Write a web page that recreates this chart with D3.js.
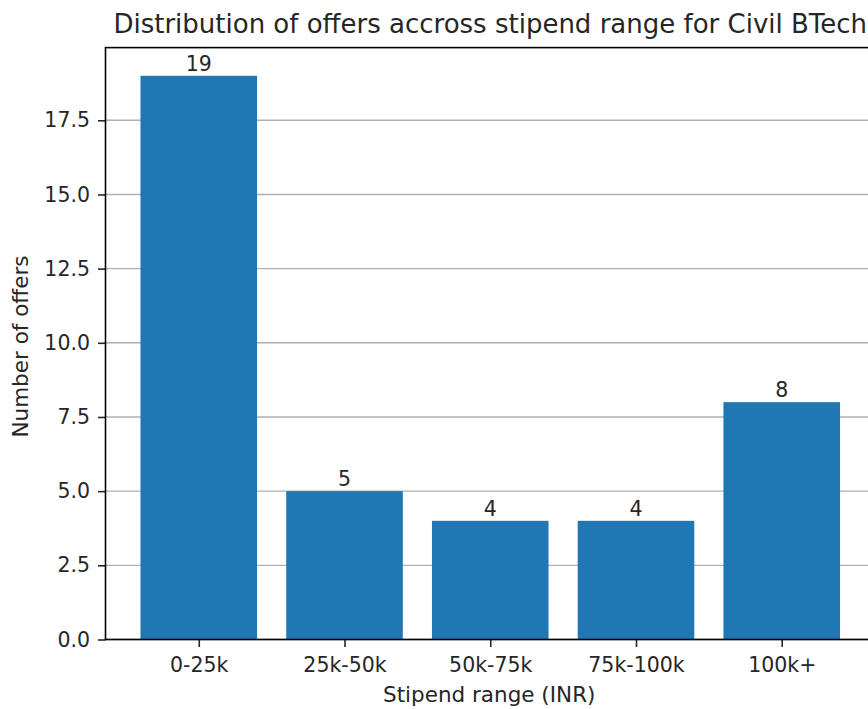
<!DOCTYPE html>
<html><head><meta charset="utf-8">
<script src="https://cdn.jsdelivr.net/npm/d3@7"></script>
<style>body{margin:0;background:#fff;overflow:hidden}text{font-family:"DejaVu Sans",sans-serif;fill:#262626}</style>
</head><body>
<svg id="c" width="868" height="709"></svg>
<script>
const categories = ["0-25k","25k-50k","50k-75k","75k-100k","100k+"];
const offers = [19,5,4,4,8];
const yTicks = [0,2.5,5,7.5,10,12.5,15,17.5];
const title = "Distribution of offers accross stipend range for Civil BTech";
const xLabel = "Stipend range (INR)";
const yLabel = "Number of offers";

const svg = d3.select("#c");
const L=105.5, R=875, T=47.6, B=639.5;
const xIdx = d3.scaleLinear().domain([-0.64,4.64]).range([L,R]);
const y = d3.scaleLinear().domain([0,19.95]).range([B,T]);
const fs = 20.5;

// grid
svg.append("g").selectAll("line").data(yTicks).join("line")
 .attr("x1",L).attr("x2",R).attr("y1",d=>y(d)).attr("y2",d=>y(d))
 .attr("stroke","#b0b0b0").attr("stroke-width",1.4);

// bars
svg.append("g").selectAll("rect").data(offers).join("rect")
 .attr("x",(d,i)=>xIdx(i-0.4)).attr("width",(d,i)=>xIdx(i+0.4)-xIdx(i-0.4))
 .attr("y",d=>y(d)).attr("height",d=>B-y(d)).attr("fill","#1f77b4");

// labels
svg.append("g").selectAll("text").data(offers).join("text")
 .attr("x",(d,i)=>xIdx(i)).attr("y",d=>y(d)-5).attr("text-anchor","middle")
 .attr("font-size",fs).text(d=>d);

// axes
const yAxis = d3.axisLeft(y).tickValues(yTicks).tickFormat(d3.format(".1f")).tickSize(7.5).tickPadding(8);
const gy = svg.append("g").attr("transform",`translate(${L},0)`).call(yAxis);
const xAxis = d3.axisBottom(xIdx).tickValues(d3.range(categories.length)).tickFormat(i=>categories[i]).tickSize(7.5).tickPadding(10);
const gx = svg.append("g").attr("transform",`translate(0,${B})`).call(xAxis);
[gx,gy].forEach(g=>{g.select(".domain").remove();g.selectAll("line").attr("stroke","#262626").attr("stroke-width",1.6);g.selectAll("text").attr("font-size",fs).attr("font-family","DejaVu Sans").attr("fill","#262626");});

// spines
svg.append("rect").attr("x",L).attr("y",T).attr("width",R-L).attr("height",B-T)
 .attr("fill","none").attr("stroke","#000").attr("stroke-width",1.6);

svg.append("text").attr("x",(L+R)/2).attr("y",33).attr("text-anchor","middle").attr("font-size",26).text(title);
svg.append("text").attr("x",(L+R)/2 - 1).attr("y",702).attr("text-anchor","middle").attr("font-size",21.5).text(xLabel);
svg.append("text").attr("transform",`translate(28,${(T+B)/2 + 3}) rotate(-90)`).attr("text-anchor","middle").attr("font-size",21.5).text(yLabel);
</script>
</body></html>
